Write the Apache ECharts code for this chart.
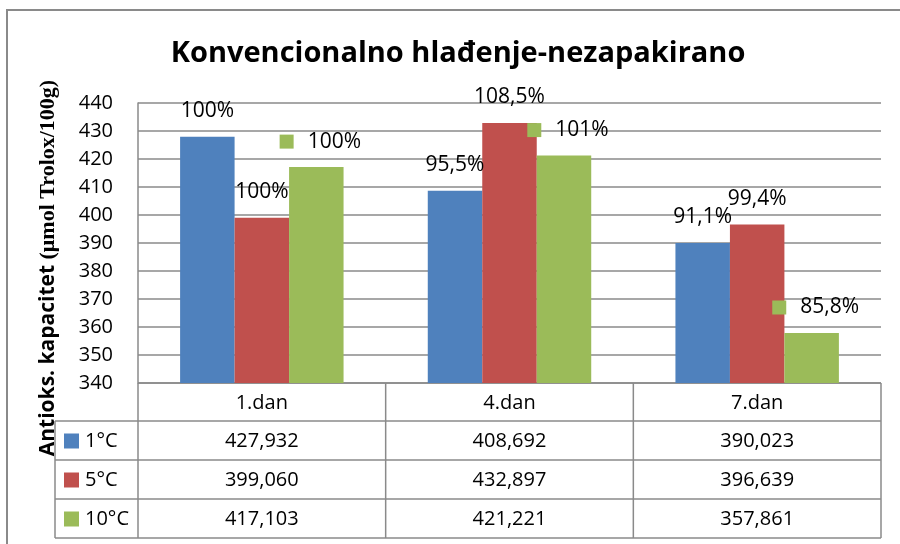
<!DOCTYPE html>
<html>
<head>
<meta charset="utf-8">
<script src="https://cdn.jsdelivr.net/npm/echarts@6/dist/echarts.min.js"></script>
<style>
  html, body { margin: 0; padding: 0; background: #fff; }
  #chart { width: 900px; height: 544px; }
</style>
</head>
<body>
<div id="chart"></div>
<script>
// data
var categories = ['1.dan', '4.dan', '7.dan'];
var seriesNames = ['1°C', '5°C', '10°C'];
var values1 = [427.932, 408.692, 390.023];
var values5 = [399.060, 432.897, 396.639];
var values10 = [417.103, 421.221, 357.861];
var pct1 = ['100%', '95,5%', '91,1%'];
var pct5 = ['100%', '108,5%', '99,4%'];
var pct10 = ['100%', '101%', '85,8%'];
var yMin = 340, yMax = 440, yStep = 10;

var colors = ['#4F81BD', '#C0504D', '#9BBB59'];
var FONT = '"Open Sans", "Noto Sans", sans-serif';
var GRID = { left: 138, right: 19, top: 103, bottom: 161 };
var LINE = '#8a8a8a';

var chart = echarts.init(document.getElementById('chart'), null, { renderer: 'canvas' });

function barSeries(idx, values, labels) {
    var s = {
        name: seriesNames[idx],
        type: 'bar',
        data: values,
        barGap: 0,
        barCategoryGap: '34%',
        itemStyle: { color: colors[idx] },
        label: {
            show: true,
            position: 'top',
            distance: 15,
            fontFamily: FONT,
            fontSize: 21,
            color: '#000',
            formatter: function (p) { return labels[p.dataIndex]; }
        }
    };
    if (idx === 2) {
        // green labels carry the legend key, as in the source
        s.label.formatter = function (p) { return '{sq|}{t|' + labels[p.dataIndex] + '}'; };
        s.label.offset = [4, 0];
        s.label.rich = {
            sq: { width: 14, height: 14, backgroundColor: colors[2] },
            t: { fontFamily: FONT, fontSize: 21, color: '#000', padding: [0, 0, 0, 14] }
        };
    }
    return s;
}

var option = {
    animation: false,
    backgroundColor: '#fff',
    title: {
        text: 'Konvencionalno hlađenje-nezapakirano',
        left: 453,
        textAlign: 'center',
        top: 34,
        textStyle: { fontFamily: FONT, fontWeight: 'bold', fontSize: 29, color: '#000' }
    },
    grid: GRID,
    xAxis: {
        type: 'category',
        data: categories,
        axisLine: { show: false },
        axisTick: { show: false },
        axisLabel: { show: false }
    },
    yAxis: {
        type: 'value',
        min: yMin,
        max: yMax,
        interval: yStep,
        axisLine: { show: true, lineStyle: { color: LINE, width: 1.5 } },
        axisTick: { show: false },
        axisLabel: { fontFamily: FONT, fontSize: 20, color: '#000', margin: 25 },
        splitLine: { lineStyle: { color: LINE, width: 1.5 } }
    },
    series: [
        barSeries(0, values1, pct1),
        barSeries(1, values5, pct5),
        barSeries(2, values10, pct10)
    ]
};
chart.setOption(option);

/* ---------- data table under the axis ---------- */
var W = 900;
var plotLeft = GRID.left, plotRight = W - GRID.right;
var band = (plotRight - plotLeft) / categories.length;
var tableTop = 544 - GRID.bottom;
var headH = 38, rowH = 39;
var keyColLeft = 55;
var rows = [values1, values5, values10];

function fmt(v) { return v.toFixed(3).replace('.', ','); }

var g = [];
// outer frame
g.push({ type: 'rect', z: -1, shape: { x: 7, y: 10, width: 900, height: 540 },
    style: { fill: null, stroke: LINE, lineWidth: 2 } });

function hline(x1, x2, y) {
    g.push({ type: 'line', shape: { x1: x1, y1: y, x2: x2, y2: y }, style: { stroke: LINE, lineWidth: 1.5 } });
}
function vline(x, y1, y2) {
    g.push({ type: 'line', shape: { x1: x, y1: y1, x2: x, y2: y2 }, style: { stroke: LINE, lineWidth: 1.5 } });
}
var tableBottom = tableTop + headH + rowH * rows.length;
hline(plotLeft, plotRight, tableTop);
for (var r = 0; r <= rows.length; r++) {
    hline(keyColLeft, plotRight, tableTop + headH + rowH * r);
}
vline(keyColLeft, tableTop + headH, tableBottom);
for (var c = 0; c <= categories.length; c++) {
    vline(plotLeft + band * c, tableTop, tableBottom);
}
// header + values, centred on each category via the axis scale
categories.forEach(function (cat, i) {
    var cx = chart.convertToPixel({ xAxisIndex: 0 }, cat);
    g.push({ type: 'text', x: cx, y: tableTop + headH / 2 + 1,
        style: { text: cat, fontFamily: FONT, fontSize: 20, fill: '#000', align: 'center', verticalAlign: 'middle' } });
    rows.forEach(function (vals, r) {
        g.push({ type: 'text', x: cx, y: tableTop + headH + rowH * r + rowH / 2 + 1,
            style: { text: fmt(vals[i]), fontFamily: FONT, fontSize: 20, fill: '#000', align: 'center', verticalAlign: 'middle' } });
    });
});
// legend keys in the first column
seriesNames.forEach(function (name, r) {
    var cy = tableTop + headH + rowH * r + rowH / 2;
    g.push({ type: 'rect', shape: { x: 64, y: cy - 7, width: 15, height: 15 }, style: { fill: colors[r] } });
    g.push({ type: 'text', x: 85, y: cy + 1,
        style: { text: name, fontFamily: FONT, fontSize: 20, fill: '#000', align: 'left', verticalAlign: 'middle' } });
});
// y axis title (mixed fonts, like the original)
g.push({ type: 'text', x: 48, y: 268, rotation: Math.PI / 2,
    style: {
        text: '{a|Antioks. kapacitet }{b|(μmol Trolox/100g)}',
        align: 'center', verticalAlign: 'middle',
        rich: {
            a: { fontFamily: FONT, fontWeight: 'bold', fontSize: 21, fill: '#000' },
            b: { fontFamily: '"Liberation Serif", "DejaVu Serif", serif', fontWeight: 'bold', fontSize: 22, fill: '#000' }
        }
    } });

chart.setOption({ graphic: g });
</script>
</body>
</html>
